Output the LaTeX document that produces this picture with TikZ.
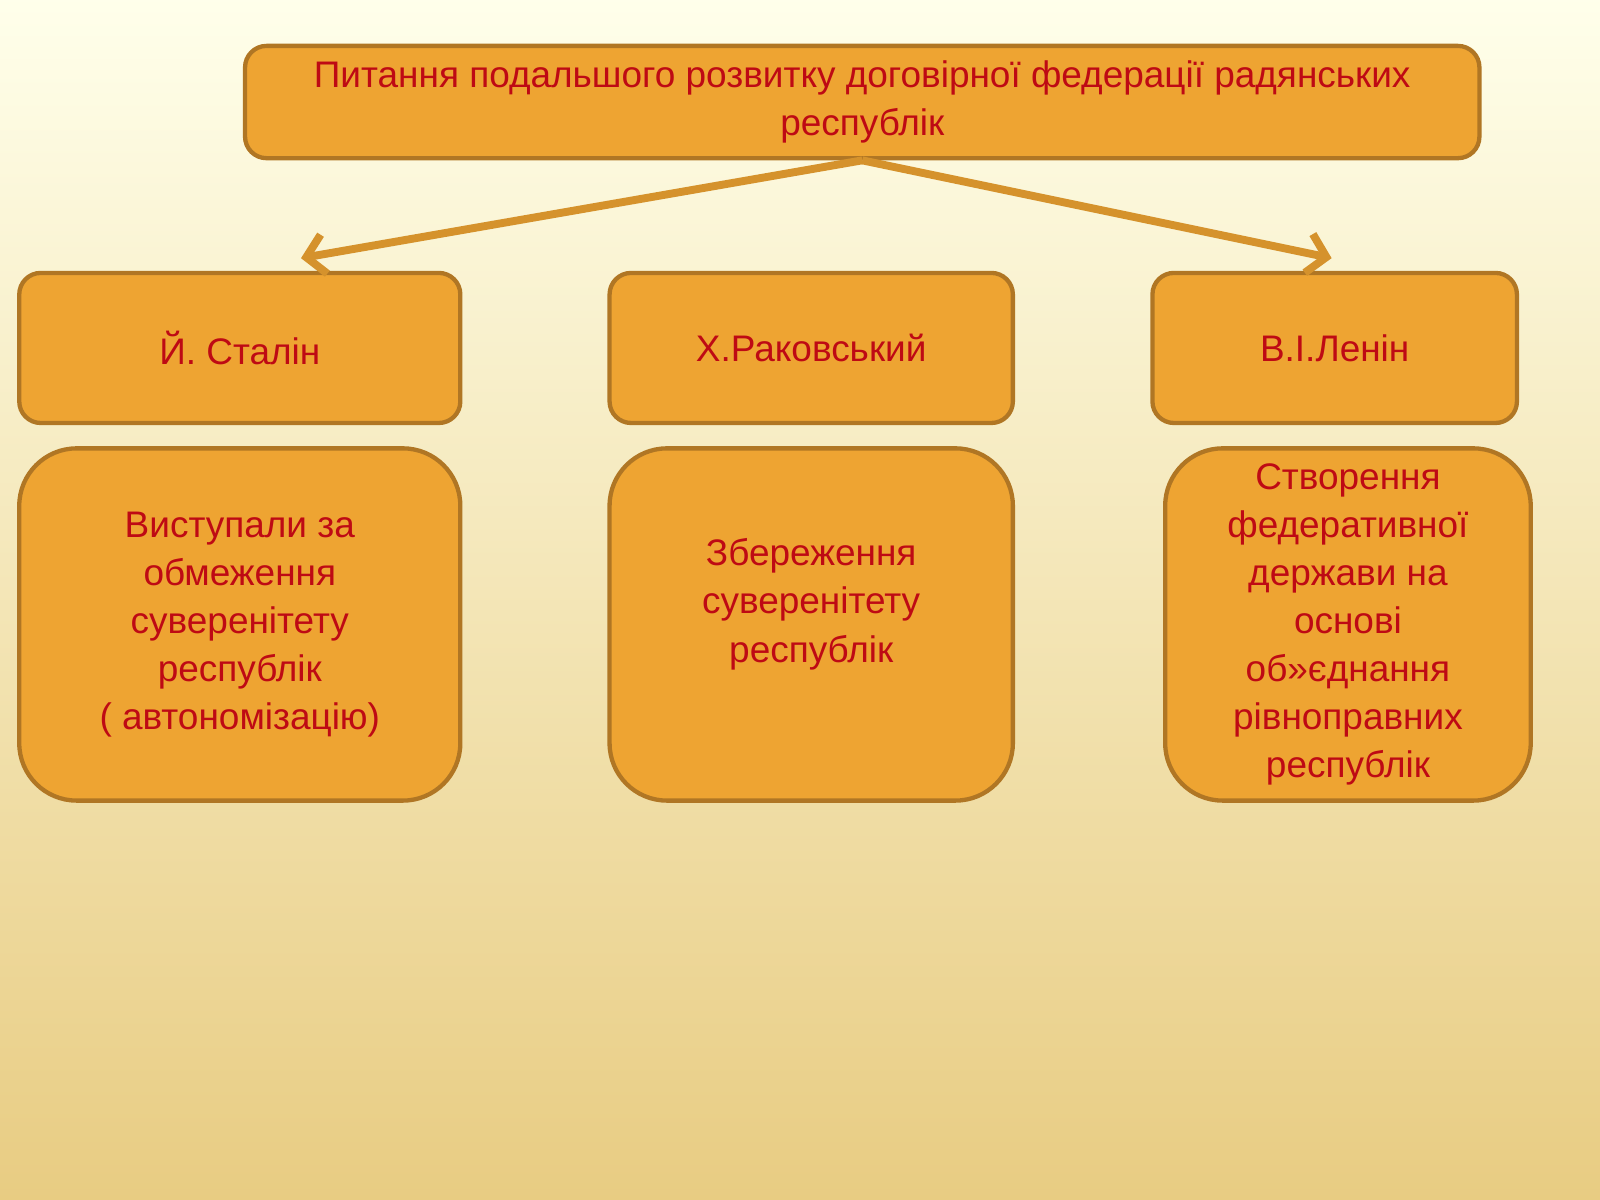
\documentclass[tikz,border=0pt]{standalone}
\usepackage{fontspec}
\setmainfont{Liberation Sans}
\usetikzlibrary{positioning,arrows.meta}
\definecolor{boxfill}{RGB}{238,164,50}
\definecolor{boxline}{RGB}{176,118,36}
\definecolor{txtred}{RGB}{190,10,20}
\tikzset{
  box/.style={draw=boxline, line width=1.2pt, fill=boxfill, text=txtred, rounded corners=6pt,
    align=center, inner sep=0pt, font=\fontsize{10.3}{13.4}\selectfont},
  bigbox/.style={box, rounded corners=16pt},
  link/.style={boxline!40!boxfill, line width=2.2pt, -{Straight Barb[length=5pt,width=11pt]}}
}
\begin{document}
\begin{tikzpicture}[x=0.01cm,y=-0.01cm]
% Background
\shade[top color=yellow!8!white, bottom color={rgb,255:red,232;green,204;blue,130}] (0,0) rectangle (1568,1176);
\useasboundingbox (0,0) rectangle (1568,1176);

% Question
\node[box, minimum width=12.09cm, minimum height=1.10cm] (q) at (845,100)
  {Питання подальшого розвитку договірної федерації радянських\\республік};

% Persons
\node[box, minimum width=4.32cm, minimum height=1.47cm] (stalin) at (235,341) {Й. Сталін};
\node[box, minimum width=3.95cm, minimum height=1.47cm] (rak) at (795,341) {Х.Раковський};
\node[box, minimum width=3.57cm, minimum height=1.47cm] (lenin) at (1308,341) {В.І.Ленін};

% Positions
\node[bigbox, minimum width=4.32cm, minimum height=3.45cm] (s2) at (235,612)
  {Виступали за\\обмеження\\суверенітету\\республік\\( автономізацію)};
\node[bigbox, minimum width=3.95cm, minimum height=3.45cm] (r2) at (795,612)
  {Збереження\\суверенітету\\республік\\~};
\node[bigbox, minimum width=3.58cm, minimum height=3.45cm] (l2) at (1321,612)
  {Створення\\федеративної\\держави на\\основі\\об»єднання\\рівноправних\\республік};

% Arrows
\coordinate (ls) at (295,253);
\coordinate (le) at (1305,253);
\draw[link] (q.south) -- (ls);
\draw[link] (q.south) -- (le);
\end{tikzpicture}
\end{document}
